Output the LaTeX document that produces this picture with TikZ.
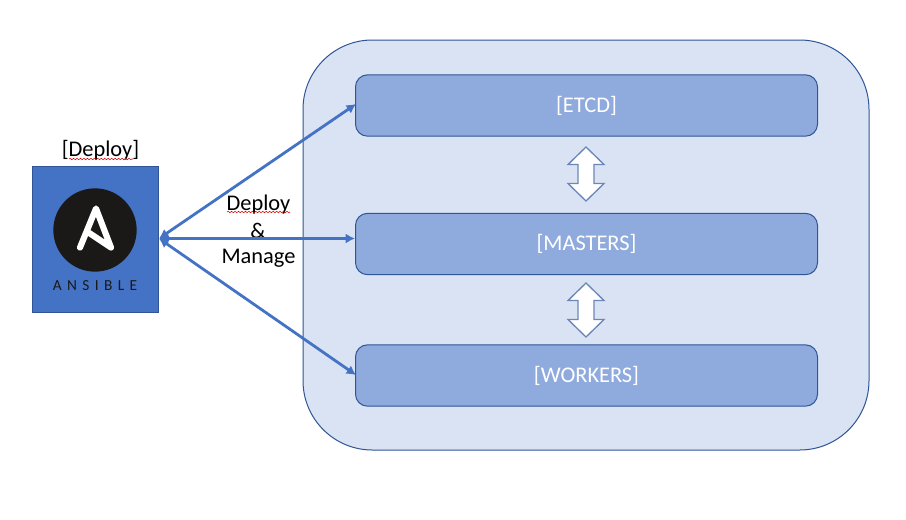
\documentclass[tikz,border=0pt]{standalone}
\usepackage{fontspec}
\setmainfont{Carlito}
\usetikzlibrary{arrows.meta,decorations.pathmorphing}
\definecolor{blueA}{HTML}{4472C4}
\definecolor{edgeA}{HTML}{2F5597}
\definecolor{paleA}{HTML}{DAE3F3}
\definecolor{midA}{HTML}{8FAADC}
\definecolor{inkA}{HTML}{1A1918}
\tikzset{
  x=0.75pt,y=-0.75pt,
  outerbox/.style={draw=edgeA,line width=0.75pt,fill=paleA,rounded corners=52pt,minimum width=424.5pt,minimum height=307.5pt,inner sep=0pt},
  tier/.style={draw=edgeA,line width=0.75pt,fill=midA,rounded corners=9pt,minimum width=346.5pt,minimum height=46pt,inner sep=0pt,text=white,font=\fontsize{16.8}{20}\selectfont},
  logobox/.style={draw=edgeA,line width=0.75pt,fill=blueA,minimum width=95pt,minimum height=109.5pt,inner sep=0pt},
  label/.style={inner sep=0pt,text=black,font=\fontsize{16.8}{20}\selectfont},
  link/.style={draw=blueA,line width=2.1pt,{Latex[length=7pt,width=7.5pt]}-{Latex[length=7pt,width=7.5pt]}},
  updown/.style={draw=edgeA!65!paleA,line width=1pt,fill=white,line join=miter},
  squiggle/.style={draw=red!85!black,line width=0.4pt,decorate,decoration={snake,amplitude=0.55pt,segment length=2.6pt}},
}
\newcommand{\updownat}[1]{\draw[updown,shift={(586,#1)}] (0,-27) -- (18,-9.5) -- (8,-9.5) -- (8,9.5) -- (18,9.5) -- (0,27) -- (-18,9.5) -- (-8,9.5) -- (-8,-9.5) -- (-18,-9.5) -- cycle;}
\begin{document}
\begin{tikzpicture}
\useasboundingbox (0,0) rectangle (906,519);
\fill[white] (0,0) rectangle (906,519);
\node[outerbox] (cluster) at (586,245) {};
\node[tier] (etcd) at (586.5,105.5) {\raisebox{-0.8pt}{[ETCD]}};
\node[tier] (masters) at (586.5,244) {\raisebox{-1pt}{[MASTERS]}};
\node[tier] (workers) at (586.5,375.5) {\raisebox{-0.8pt}{[WORKERS]}};
\updownat{174}
\updownat{310}
\node[logobox] (logo) at (95.5,239) {};
\node[circle,fill=inkA,minimum size=62.5pt,inner sep=0pt] (disc) at (95,230) {};
\draw[white,line width=4.6pt,line cap=round,line join=round] (80,247.5) -- (96,208.5) -- (111,247.5) -- (87,231.5);
\node[inner sep=0pt,text=inkA,font=\fontsize{11.5}{13}\selectfont\addfontfeature{LetterSpace=35}] (brand) at (95,286) {ANSIBLE};
\node[label] (deployTag) at (100.5,150) {[Deploy]};
\node[label] (deployA) at (258.5,204.5) {Deploy};
\node[label] (amp) at (258,230.5) {\&};
\node[label] (manage) at (258.5,258.5) {Manage};
\coordinate (hub) at (159,238.5);
\coordinate (etcdEnd) at (356,104);
\coordinate (workersEnd) at (356,375);
\draw[link] (hub) -- (etcdEnd);
\draw[link] (hub) -- (hub -| masters.west);
\draw[link] (hub) -- (workersEnd);
\draw[squiggle] (69,159) -- (133,159);
\draw[squiggle] (227,212) -- (290,212);
\end{tikzpicture}
\end{document}
